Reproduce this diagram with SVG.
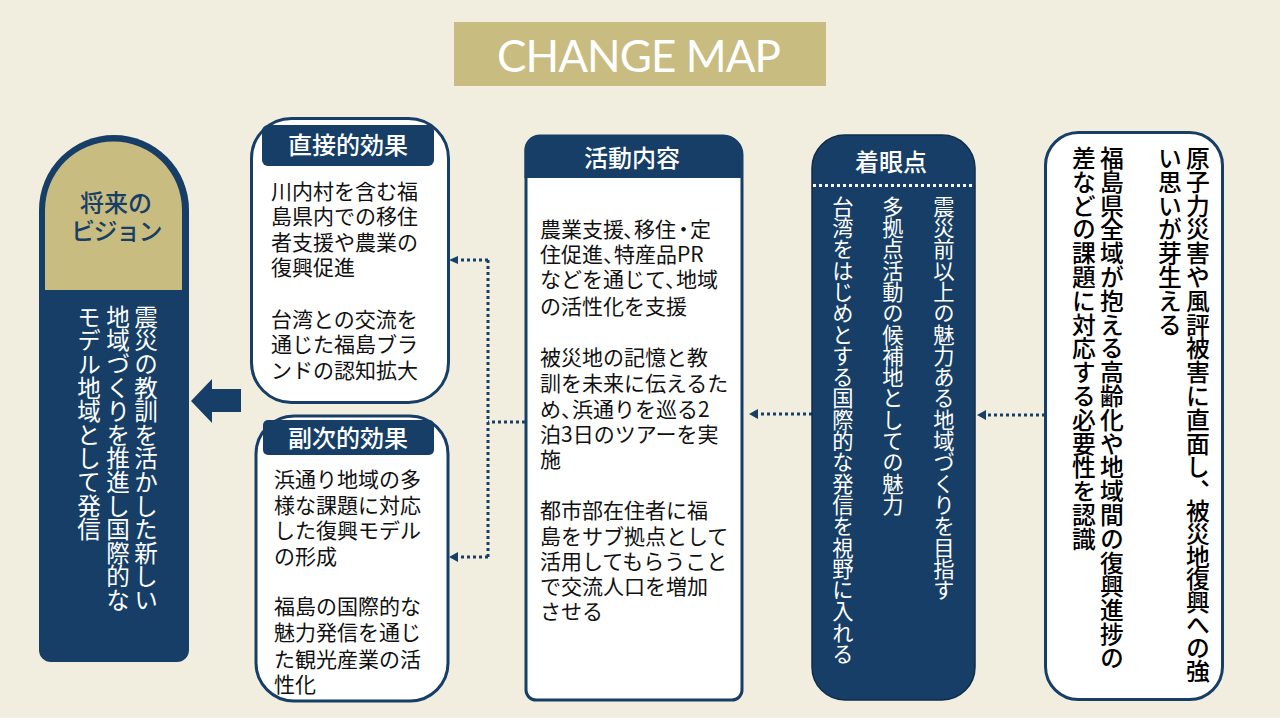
<svg xmlns="http://www.w3.org/2000/svg" width="1280" height="720" viewBox="0 0 1280 720">
<style>
text{font-family:"Noto Sans CJK JP","Noto Sans",sans-serif}
.t{font-size:21px;fill:#111}
.h{font-size:24px;fill:#fff;text-anchor:middle;font-weight:500}
.n{fill:#163e66}
.v{writing-mode:vertical-rl;text-orientation:upright}
.w{font-size:21.300px;fill:#fff}
.x{font-size:23.600px;fill:#fff}
.k{font-size:23.800px;fill:#000;font-weight:500}
.c{fill:none;stroke:#163e66;stroke-width:3;stroke-dasharray:3 3}
.a{fill:#163e66}
</style>
<rect width="1280" height="718" fill="#f1eee0"/>
<rect x="0" y="718" width="1280" height="2" fill="#fff"/>
<g id="title"><rect x="454" y="22" width="372" height="64" fill="#c9bc80"/><text x="497" y="72" textLength="284" lengthAdjust="spacing" style="font-family:Lato,'Noto Sans',sans-serif;font-size:44px;font-weight:400" fill="#fff">CHANGE MAP</text></g>
<g id="connectors">
<path class="c" d="M1045 415H984"/><path class="a" d="M977 415l9-5v10z"/>
<path class="c" d="M812 414H756"/><path class="a" d="M749 414l9-5v10z"/>
<path class="c" d="M525 422H488M488 260V557M488 260H456M488 557H456"/><path class="a" d="M449 260l9-4v8zM449 557l9-5v10z"/>
<path class="a" d="M191 401l21-22v10h29v23h-29v11z"/>
</g>
<g id="vision">
<path d="M39 210a75 75 0 0 1 150 0V650a12 12 0 0 1-12 12H51a12 12 0 0 1-12-12z" fill="#163e66"/>
<path d="M45 210a68.500 68.500 0 0 1 137 0V290H45z" fill="#c9bc80"/>
<text x="116" y="212" class="h n" style="fill:#163e66">将来の</text>
<text x="116" y="240" class="h n" style="fill:#163e66;letter-spacing:-1.500px">ビジョン</text>
<text x="146" y="305" class="v x">震災の教訓を活かした新しい</text>
<text x="118" y="305" class="v x">地域づくりを推進し国際的な</text>
<text x="89" y="305" class="v x">モデル地域として発信</text>
</g>
<g id="direct">
<rect x="251.500" y="118.500" width="197" height="284" rx="40" fill="#fff" stroke="#163e66" stroke-width="3"/>
<rect x="262" y="125" width="172" height="41" rx="6" fill="#163e66"/>
<text x="348" y="154" class="h">直接的効果</text>
<text x="271" y="199" class="t">川内村を含む福</text><text x="271" y="224" class="t">島県内での移住</text><text x="271" y="250" class="t">者支援や農業の</text><text x="271" y="275" class="t">復興促進</text>
<text x="271" y="327" class="t">台湾との交流を</text><text x="271" y="352" class="t">通じた福島ブラ</text><text x="271" y="378" class="t">ンドの認知拡大</text>
</g>
<g id="secondary">
<rect x="256" y="416" width="192" height="285" rx="38" fill="#fff" stroke="#163e66" stroke-width="3"/>
<rect x="263" y="420" width="171" height="35" rx="5" fill="#163e66"/>
<text x="348" y="447" class="h">副次的効果</text>
<text x="274" y="487" class="t">浜通り地域の多</text><text x="274" y="513" class="t">様な課題に対応</text><text x="274" y="538" class="t">した復興モデル</text><text x="274" y="564" class="t">の形成</text>
<text x="274" y="614" class="t">福島の国際的な</text><text x="274" y="640" class="t">魅力発信を通じ</text><text x="274" y="667" class="t">た観光産業の活</text><text x="274" y="692" class="t">性化</text>
</g>
<g id="activity">
<path d="M526 178V150a14 14 0 0 1 14-14H723a19 19 0 0 1 19 19V690a10 10 0 0 1-10 10H536a10 10 0 0 1-10-10z" fill="#fff" stroke="#163e66" stroke-width="3"/>
<path d="M524.500 178V150a15 15 0 0 1 15-15H723a20 20 0 0 1 20 20V178z" fill="#163e66"/>
<text x="632" y="167" class="h">活動内容</text>
<text x="540" y="237" class="t">農業支援<tspan dx="-1">、</tspan><tspan dx="-10">移住</tspan><tspan dx="-3">・</tspan><tspan dx="-4">定</tspan></text>
<text x="540" y="262" class="t">住促進<tspan>、</tspan><tspan dx="-10">特産品PR</tspan></text>
<text x="540" y="287" class="t">などを通じて<tspan>、</tspan><tspan dx="-10">地域</tspan></text>
<text x="540" y="314" class="t">の活性化を支援</text>
<text x="540" y="365" class="t">被災地の記憶と教</text>
<text x="540" y="391" class="t">訓を未来に伝えるた</text>
<text x="540" y="417" class="t">め<tspan>、</tspan><tspan dx="-10">浜通りを巡る2</tspan></text>
<text x="540" y="442" class="t">泊3日のツアーを実</text>
<text x="540" y="467" class="t">施</text>
<text x="540" y="518" class="t">都市部在住者に福</text>
<text x="540" y="544" class="t">島をサブ拠点として</text>
<text x="540" y="569" class="t">活用してもらうこと</text>
<text x="540" y="594" class="t">で交流人口を増加</text>
<text x="540" y="619" class="t">させる</text>
</g>
<g id="focus">
<rect x="812" y="135" width="163" height="565" rx="33" fill="#163e66" stroke="#0f2c49" stroke-width="1.500"/>
<text x="891" y="171" class="h">着眼点</text>
<path d="M813 185.500H974" stroke="#fff" stroke-width="3" stroke-dasharray="3 3" fill="none"/>
<text x="944" y="196" class="v w">震災前以上の魅力ある地域づくりを目指す</text>
<text x="893" y="196" class="v w">多拠点活動の候補地としての魅力</text>
<text x="843" y="196" class="v w">台湾をはじめとする国際的な発信を視野に入れる</text>
</g>
<g id="awareness">
<rect x="1045.500" y="132.500" width="177" height="567" rx="33" fill="#fff" stroke="#163e66" stroke-width="3"/>
<text x="1198" y="146" class="v k">原子力災害や風評被害に直面し、<tspan dy="-4" style="letter-spacing:-1px">被災地復興への強</tspan></text>
<text x="1170" y="146" class="v k">い思いが芽生える</text>
<text x="1112" y="146" class="v k">福島県全域が抱える高齢化や地域間の復興進捗の</text>
<text x="1084" y="146" class="v k">差などの課題に対応する必要性を認識</text>
</g>
</svg>
